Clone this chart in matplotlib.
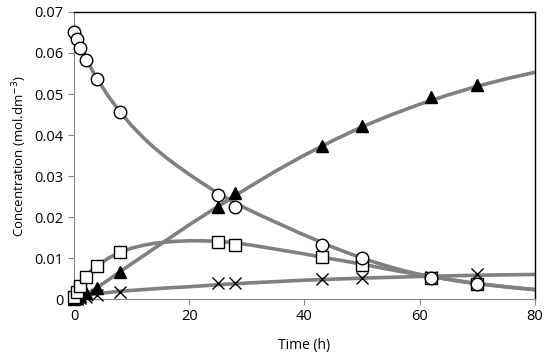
import numpy as np
import matplotlib.pyplot as plt

plt.rcParams['font.family'] = ['Open Sans', 'DejaVu Sans']

# measured points
t = [0, 0.5, 1, 2, 4, 8, 25, 28, 43, 50, 62, 70]
circ = [0.0650, 0.0634, 0.0612, 0.0582, 0.0536, 0.0455, 0.0254, 0.0224, 0.0132, 0.0099, 0.0052, 0.0036]
sq = [0.0004, 0.0018, 0.0032, 0.0054, 0.0080, 0.0115, 0.0139, 0.0133, 0.0102, 0.0083, 0.0052, 0.0036]
tri = [0.0, 0.0003, 0.0007, 0.0014, 0.0028, 0.0066, 0.0224, 0.0258, 0.0374, 0.0422, 0.0493, 0.0522]
cross = [0.0, 0.0, 0.0003, 0.0005, 0.0010, 0.0018, 0.0038, 0.0038, 0.0049, 0.0052, 0.0054, 0.0061]

# fitted curves
tc_a = [0, 1, 2, 3, 4, 6, 8, 10, 12, 14, 16, 18, 20, 22, 24, 26, 28, 30, 33, 36, 39, 42, 45, 48,
        51, 54, 57, 60, 64, 68, 72, 76, 80]
fit_a = [0.0650, 0.0619, 0.0590, 0.0562, 0.0537, 0.0494, 0.0456, 0.0423, 0.0394, 0.0368, 0.0345,
         0.0324, 0.0304, 0.0285, 0.0267, 0.0250, 0.0234, 0.0220, 0.0200, 0.0181, 0.0162, 0.0144,
         0.0126, 0.0110, 0.0095, 0.0082, 0.0070, 0.0060, 0.0050, 0.0041, 0.0034, 0.0028, 0.0023]
tc_b = [0, 0.5, 1, 2, 3, 4, 6, 8, 10, 12, 14, 16, 18, 20, 22, 25, 28, 31, 34, 37, 40, 43, 46, 50,
        54, 58, 62, 66, 70, 75, 80]
fit_b = [0.0, 0.0017, 0.0031, 0.0053, 0.0069, 0.0081, 0.0100, 0.0114, 0.0124, 0.0131, 0.0136,
         0.0139, 0.0141, 0.0142, 0.0142, 0.0141, 0.0137, 0.0131, 0.0124, 0.0117, 0.0110, 0.0102,
         0.0095, 0.0085, 0.0074, 0.0064, 0.0055, 0.0046, 0.0038, 0.0030, 0.0023]
tc_p = [0, 1, 2, 3, 4, 6, 8, 12, 16, 20, 25, 30, 35, 40, 45, 50, 55, 60, 65, 70, 75, 80]
fit_p = [0.0, 0.0004, 0.0011, 0.0019, 0.0028, 0.0047, 0.0067, 0.0105, 0.0143, 0.0181, 0.0226, 0.0270,
         0.0312, 0.0351, 0.0387, 0.0420, 0.0449, 0.0475, 0.0498, 0.0519, 0.0537, 0.0553]
tc_c = [0, 1, 2, 4, 8, 12, 16, 20, 25, 30, 40, 50, 60, 70, 80]
fit_c = [0.0, 0.0005, 0.0009, 0.0013, 0.0019, 0.0023, 0.0027, 0.0030, 0.0035, 0.0039, 0.0046, 0.0051,
         0.0055, 0.0058, 0.0060]

xticks = [0, 20, 40, 60, 80]
yticks = [0, 0.01, 0.02, 0.03, 0.04, 0.05, 0.06, 0.07]
ylabels = ['0', '0.01', '0.02', '0.03', '0.04', '0.05', '0.06', '0.07']

fig = plt.figure(figsize=(5.5, 3.59), dpi=100)
ax = fig.add_axes([0.1345, 0.167, 0.8382, 0.7996])

lc = '#808080'
for xs, ys in [(tc_a, fit_a), (tc_b, fit_b), (tc_p, fit_p), (tc_c, fit_c)]:
    ax.plot(xs, ys, color=lc, lw=2.6, solid_joinstyle='round', zorder=2)

ax.plot(t, cross, 'x', color='black', ms=8, mew=1.0, zorder=3, clip_on=False)
ax.plot(t, tri, '^', color='black', ms=8.5, zorder=4, clip_on=False)
ax.plot(t, sq, 's', mfc='white', mec='black', ms=8.5, mew=1.0, zorder=5, clip_on=False)
ax.plot(t, circ, 'o', mfc='white', mec='black', ms=9, mew=1.0, zorder=6, clip_on=False)

ax.set_xlim(0, 80)
ax.set_ylim(0, 0.07)
ax.set_xticks(xticks)
ax.set_yticks(yticks)
ax.set_yticklabels(ylabels)
ax.tick_params(labelsize=10.5, color='#868686', length=4, width=0.8)
for s in ['left', 'bottom']:
    ax.spines[s].set_color('#868686')
for s in ['top', 'right']:
    ax.spines[s].set_color('black')
    ax.spines[s].set_linewidth(1.0)

ax.set_xlabel('Time (h)', fontsize=10, labelpad=10)
ax.set_ylabel('Concentration (mol.dm$^{-3}$)', fontsize=9.5, labelpad=4)

fig.savefig('out.png', dpi=100)
